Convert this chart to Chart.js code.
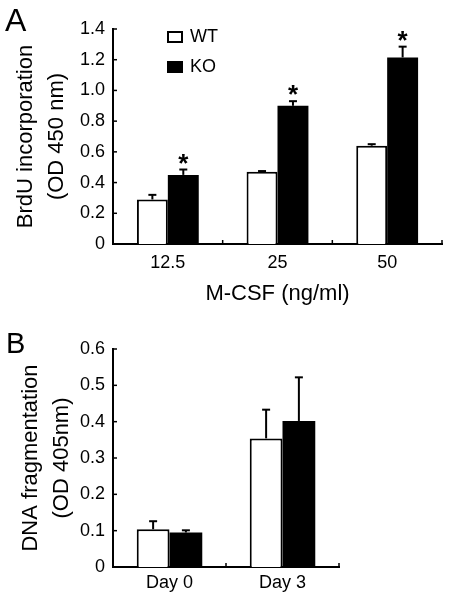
<!DOCTYPE html>
<html>
<head>
<meta charset="utf-8">
<script src="https://cdn.jsdelivr.net/npm/chart.js@4.4.1/dist/chart.umd.min.js"></script>
<style>
  html, body { margin: 0; padding: 0; background: #fff; }
  body { width: 451px; height: 600px; position: relative; overflow: hidden; }
  canvas { position: absolute; left: 0; }
  #cA { top: 0; }
  #cB { top: 315px; }
</style>
</head>
<body>
<canvas id="cA" width="451" height="315"></canvas>
<canvas id="cB" width="451" height="285"></canvas>
<script>
// ---- Panel A data ----
const categoriesA = ['12.5', '25', '50'];
const wtA = [0.29, 0.47, 0.64];
const wtAErr = [0.03, 0.005, 0.01];
const koA = [0.45, 0.90, 1.215];
const koAErr = [0.035, 0.03, 0.07];
const sigA = [true, true, true];
const yTicksA = [0, 0.2, 0.4, 0.6, 0.8, 1.0, 1.2, 1.4];

// ---- Panel B data ----
const categoriesB = ['Day 0', 'Day 3'];
const wtB = [0.104, 0.354];
const wtBErr = [0.022, 0.079];
const koB = [0.095, 0.402];
const koBErr = [0.006, 0.12];
const yTicksB = [0, 0.1, 0.2, 0.3, 0.4, 0.5, 0.6];

const seriesNames = ['WT', 'KO'];
const FONT = '"Liberation Sans", Arial, Helvetica, sans-serif';

function fmtTick(v) { return v === 0 ? '0' : v.toFixed(1); }

const decorPlugin = {
  id: 'decor',
  afterDatasetsDraw(chart, args, opts) {
    const ctx = chart.ctx;
    const xs = chart.scales.x, ys = chart.scales.y;
    const ca = chart.chartArea;
    ctx.save();
    ctx.strokeStyle = '#000';
    ctx.fillStyle = '#000';
    // error bars
    chart.data.datasets.forEach((ds, di) => {
      const meta = chart.getDatasetMeta(di);
      meta.data.forEach((bar, j) => {
        const v = ds.data[j], e = ds.errors[j];
        const y0 = ys.getPixelForValue(v);
        const y1 = ys.getPixelForValue(v + e);
        ctx.lineWidth = 2;
        ctx.beginPath();
        ctx.moveTo(bar.x, y0);
        ctx.lineTo(bar.x, y1);
        ctx.stroke();
        ctx.beginPath();
        ctx.moveTo(bar.x - 4, y1);
        ctx.lineTo(bar.x + 4, y1);
        ctx.stroke();
        if (ds.sig && ds.sig[j]) {
          ctx.font = 'bold 26px ' + FONT;
          ctx.textAlign = 'center';
          ctx.textBaseline = 'alphabetic';
          const m = ctx.measureText('*');
          const asc = m.actualBoundingBoxAscent, desc = m.actualBoundingBoxDescent;
          const centerY = y1 - 11;
          ctx.fillText('*', bar.x, centerY - (desc - asc) / 2);
        }
      });
    });
    // y tick marks (inside)
    ctx.lineWidth = 1.5;
    ys.ticks.forEach(t => {
      const y = ys.getPixelForValue(t.value);
      ctx.beginPath();
      ctx.moveTo(ca.left, y);
      ctx.lineTo(ca.left + 4, y);
      ctx.stroke();
    });
    // x tick marks at category boundaries (pointing up)
    const n = chart.data.labels.length;
    for (let i = 1; i <= n; i++) {
      const x = xs.getPixelForValue(i - 0.5);
      ctx.beginPath();
      ctx.moveTo(x, ca.bottom);
      ctx.lineTo(x, ca.bottom - 4);
      ctx.stroke();
    }
    // panel letter
    ctx.font = opts.letterSize + 'px ' + FONT;
    ctx.textAlign = 'left';
    ctx.textBaseline = 'alphabetic';
    ctx.fillText(opts.letter, opts.letterX, opts.letterY);
    // legend
    if (opts.legend) {
      chart.data.datasets.forEach((ds, di) => {
        const lx = opts.legend.x, ly = opts.legend.y + di * opts.legend.gap;
        ctx.fillStyle = ds.backgroundColor;
        ctx.fillRect(lx, ly, 14, 10);
        ctx.lineWidth = 2;
        ctx.strokeStyle = '#000';
        ctx.strokeRect(lx, ly, 14, 10);
        ctx.fillStyle = '#000';
        ctx.font = '18px ' + FONT;
        ctx.textBaseline = 'middle';
        ctx.fillText(ds.label, lx + 22, ly + 5.5);
      });
    }
    ctx.restore();
  }
};

function makeChart(canvasId, cfg) {
  return new Chart(document.getElementById(canvasId), {
    type: 'bar',
    data: {
      labels: cfg.labels,
      datasets: [
        { label: seriesNames[0], data: cfg.wt, errors: cfg.wtErr, backgroundColor: '#ffffff',
          borderColor: '#000', borderWidth: 2, borderSkipped: 'bottom' },
        { label: seriesNames[1], data: cfg.ko, errors: cfg.koErr, sig: cfg.sig, backgroundColor: '#000000',
          borderColor: '#000', borderWidth: 0 }
      ]
    },
    options: {
      responsive: false,
      animation: false,
      devicePixelRatio: 1,
      layout: { padding: { left: 0, right: cfg.padRight, top: cfg.padTop, bottom: 0 } },
      datasets: { bar: { categoryPercentage: cfg.catPct, barPercentage: 1.0 } },
      plugins: {
        legend: { display: false },
        tooltip: { enabled: false },
        decor: cfg.decor
      },
      scales: {
        x: {
          grid: { display: false, drawTicks: false },
          border: { display: true, color: '#000', width: 2 },
          ticks: { color: '#000', font: { family: FONT, size: 18 }, padding: cfg.xTickPad, maxRotation: 0 },
          title: cfg.xTitle ? { display: true, text: cfg.xTitle, color: '#000',
                   font: { family: FONT, size: 22 }, padding: { top: 0, bottom: 8 } } : { display: false },
          afterFit(s) { s.height = cfg.xHeight; }
        },
        y: {
          min: 0, max: cfg.yMax,
          afterBuildTicks(s) { s.ticks = cfg.yTicks.map(v => ({ value: v })); },
          grid: { display: false, drawTicks: false },
          border: { display: true, color: '#000', width: 2 },
          ticks: { color: '#000', font: { family: FONT, size: 18 }, padding: 8,
                   callback: v => fmtTick(v) },
          title: { display: true, text: cfg.yTitle, color: '#000',
                   font: { family: FONT, size: 22, lineHeight: 1.4 }, padding: { top: cfg.yTitlePad, bottom: 0 } },
          afterFit(s) { s.width = 113; }
        }
      }
    },
    plugins: [decorPlugin]
  });
}

makeChart('cA', {
  labels: categoriesA, wt: wtA, wtErr: wtAErr, ko: koA, koErr: koAErr, sig: sigA,
  yTicks: yTicksA, yMax: 1.4, padRight: 9, padTop: 29, xHeight: 71, catPct: 0.564, xTickPad: 8,
  xTitle: 'M-CSF (ng/ml)', yTitle: ['BrdU incorporation', '(OD 450 nm)'], yTitlePad: 10.5,
  decor: { letter: 'A', letterSize: 32, letterX: 5, letterY: 31, legend: { x: 168, y: 32, gap: 30 } }
});

makeChart('cB', {
  labels: categoriesB, wt: wtB, wtErr: wtBErr, ko: koB, koErr: koBErr, sig: null,
  yTicks: yTicksB, yMax: 0.6, padRight: 112, padTop: 34, xHeight: 33, catPct: 0.58, xTickPad: 5.5,
  xTitle: null, yTitle: ['DNA fragmentation', '(OD 405nm)'], yTitlePad: 15.5,
  decor: { letter: 'B', letterSize: 29, letterX: 6, letterY: 38, legend: null }
});
</script>
</body>
</html>
